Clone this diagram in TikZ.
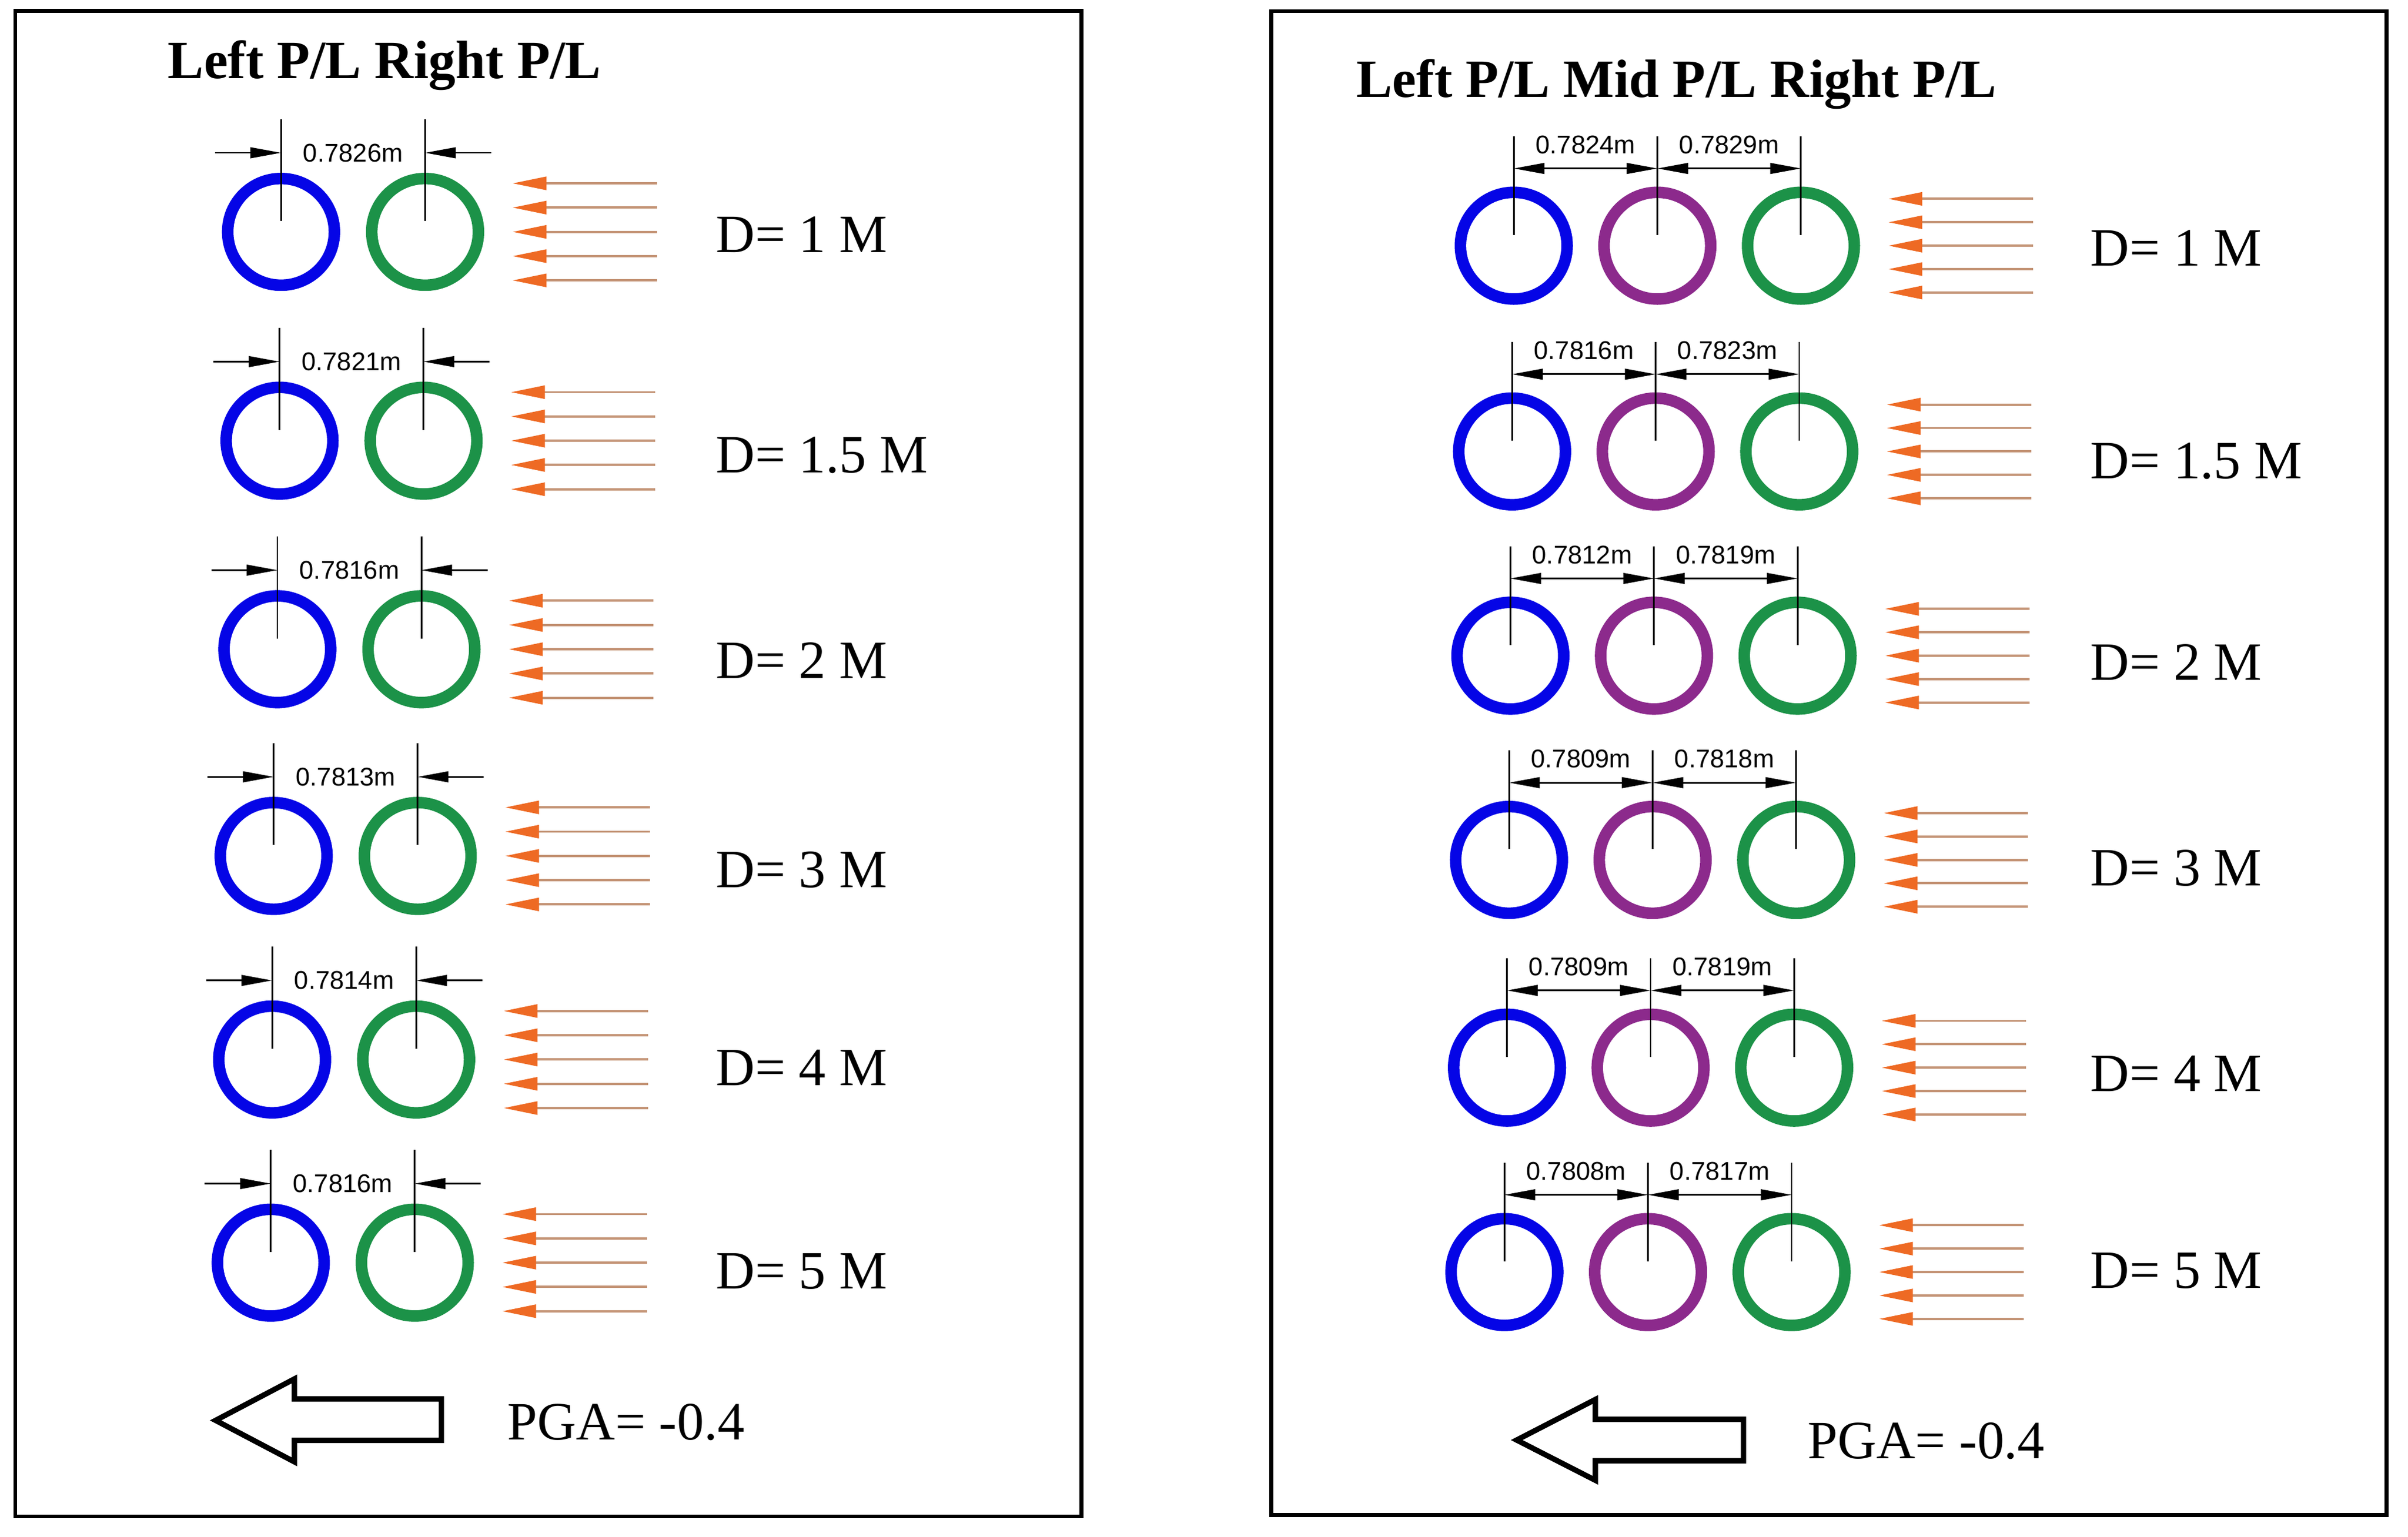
\documentclass[tikz,border=0pt]{standalone}
\usepackage{fontspec}
\setmainfont{Liberation Serif}
\setsansfont{Liberation Sans}
\usetikzlibrary{arrows.meta,calc}
\definecolor{pblue}{RGB}{5,5,230}
\definecolor{pgreen}{RGB}{28,146,72}
\definecolor{ppurple}{RGB}{140,42,140}
\definecolor{worange}{RGB}{238,106,36}
\definecolor{wline}{RGB}{196,148,118}
\begin{document}
\begin{tikzpicture}[x=0.02cm,y=-0.02cm,
  pipe/.style={circle,draw,line width=0.15cm,minimum size=1.39cm,inner sep=0pt},
  frame/.style={draw=black,line width=0.05cm},
  thinline/.style={draw=black,line width=0.022cm},
  dimtip/.style={thinline,-{Triangle[length=0.4cm,width=0.14cm]}},
  dimboth/.style={thinline,{Triangle[length=0.4cm,width=0.14cm]}-{Triangle[length=0.4cm,width=0.14cm]}},
  wind/.style={draw=wline,line width=0.03cm,-{Triangle[length=0.44cm,width=0.17cm,color=worange]}},
  dimlab/.style={font=\sffamily\fontsize{9.5pt}{11pt}\selectfont,inner sep=0pt},
  dlab/.style={font=\fontsize{20pt}{24pt}\selectfont,inner sep=0pt,anchor=base west},
  ttl/.style={font=\bfseries\fontsize{20pt}{24pt}\selectfont,inner sep=0pt,anchor=base west},
  bigarrow/.style={draw=black,line width=0.07cm,line join=miter,fill=white}
]
\useasboundingbox (0,0) rectangle (1568,1000.6);
\fill[white] (0,0) rectangle (1568,1000.6);

% frames
\draw[frame] (10,7) rectangle (704.3,987.5);
\draw[frame] (827.7,7.2) rectangle (1554,986.6);

% titles
\node[ttl] (tL) at (109,51) {Left P/L Right P/L};
\node[ttl] (tR) at (883,63.5) {Left P/L Mid P/L Right P/L};

% left panel rows
\foreach \i/\bx/\cy/\lab/\dd/\dy in {1/183/151/0.7826/1/152.4,
    2/182/287/0.7821/1.5/296,
    3/180.6/422.8/0.7816/2/430,
    4/178.2/557.4/0.7813/3/566,
    5/177.2/690/0.7814/4/695,
    6/176.3/822.3/0.7816/5/827.4} {
  \pgfmathsetmacro{\gx}{\bx+93.8}
  \node[pipe,draw=pblue] (Lb\i) at (\bx,\cy) {};
  \node[pipe,draw=pgreen] (Lg\i) at (\gx,\cy) {};
  \coordinate (Lbt\i) at (\bx,\cy-73.5);
  \coordinate (Lgt\i) at (\gx,\cy-73.5);
  \draw[thinline] (Lbt\i) -- ($(Lb\i.center)+(0,-7)$);
  \draw[thinline] (Lgt\i) -- ($(Lg\i.center)+(0,-7)$);
  \coordinate (Lbd\i) at (\bx,\cy-51.5);
  \coordinate (Lgd\i) at (\gx,\cy-51.5);
  \coordinate (Lbo\i) at (\bx-43,\cy-51.5);
  \coordinate (Lgo\i) at (\gx+43,\cy-51.5);
  \draw[dimtip] (Lbo\i) -- (Lbd\i);
  \draw[dimtip] (Lgo\i) -- (Lgd\i);
  \node[dimlab] (Ll\i) at ($(Lbd\i)!0.5!(Lgd\i)$) {\lab m};
  \foreach \k in {-2,...,2} {
    \draw[wind] (\gx+151,\cy+\k*15.8) -- (\gx+57,\cy+\k*15.8);
  }
  \node[dlab] (LD\i) at (466,\dy+11.8) {D= \dd\ M};
}

% right panel rows
\foreach \i/\bx/\cy/\la/\lb/\dd/\dy in {1/985.7/160/0.7824/0.7829/1/161.3,
    2/984.6/294/0.7816/0.7823/1.5/300,
    3/983.5/427/0.7812/0.7819/2/431,
    4/982.6/560/0.7809/0.7818/3/565,
    5/981.3/695.3/0.7809/0.7819/4/699,
    6/979.6/828.4/0.7808/0.7817/5/827.2} {
  \pgfmathsetmacro{\mx}{\bx+93.5}
  \pgfmathsetmacro{\gx}{\bx+187}
  \node[pipe,draw=pblue] (Rb\i) at (\bx,\cy) {};
  \node[pipe,draw=ppurple] (Rm\i) at (\mx,\cy) {};
  \node[pipe,draw=pgreen] (Rg\i) at (\gx,\cy) {};
  \coordinate (Rbt\i) at (\bx,\cy-71.3);
  \coordinate (Rmt\i) at (\mx,\cy-71.3);
  \coordinate (Rgt\i) at (\gx,\cy-71.3);
  \draw[thinline] (Rbt\i) -- ($(Rb\i.center)+(0,-7)$);
  \draw[thinline] (Rmt\i) -- ($(Rm\i.center)+(0,-7)$);
  \draw[thinline] (Rgt\i) -- ($(Rg\i.center)+(0,-7)$);
  \coordinate (Rbd\i) at (\bx,\cy-50.3);
  \coordinate (Rmd\i) at (\mx,\cy-50.3);
  \coordinate (Rgd\i) at (\gx,\cy-50.3);
  \draw[dimboth] (Rbd\i) -- (Rmd\i);
  \draw[dimboth] (Rmd\i) -- (Rgd\i);
  \node[dimlab] (Rla\i) at ($(Rbd\i)!0.5!(Rmd\i)+(0,-15.5)$) {\la m};
  \node[dimlab] (Rlb\i) at ($(Rmd\i)!0.5!(Rgd\i)+(0,-15.5)$) {\lb m};
  \foreach \k in {-2,...,2} {
    \draw[wind] (\gx+151,\cy+\k*15.25) -- (\gx+57,\cy+\k*15.25);
  }
  \node[dlab] (RD\i) at (1361,\dy+11.8) {D= \dd\ M};
}

% PGA arrows
\draw[bigarrow] (140.4,925) -- (191.7,898) -- (191.7,911) -- (287.4,911)
  -- (287.4,938) -- (191.7,938) -- (191.7,952) -- cycle;
\node[dlab] (pgaL) at (330,937.8) {PGA= -0.4};
\draw[bigarrow] (987.6,937.8) -- (1038.8,911.4) -- (1038.8,924.3) -- (1135.3,924.3)
  -- (1135.3,951.3) -- (1038.8,951.3) -- (1038.8,964) -- cycle;
\node[dlab] (pgaR) at (1176.6,949.7) {PGA= -0.4};
\end{tikzpicture}
\end{document}
